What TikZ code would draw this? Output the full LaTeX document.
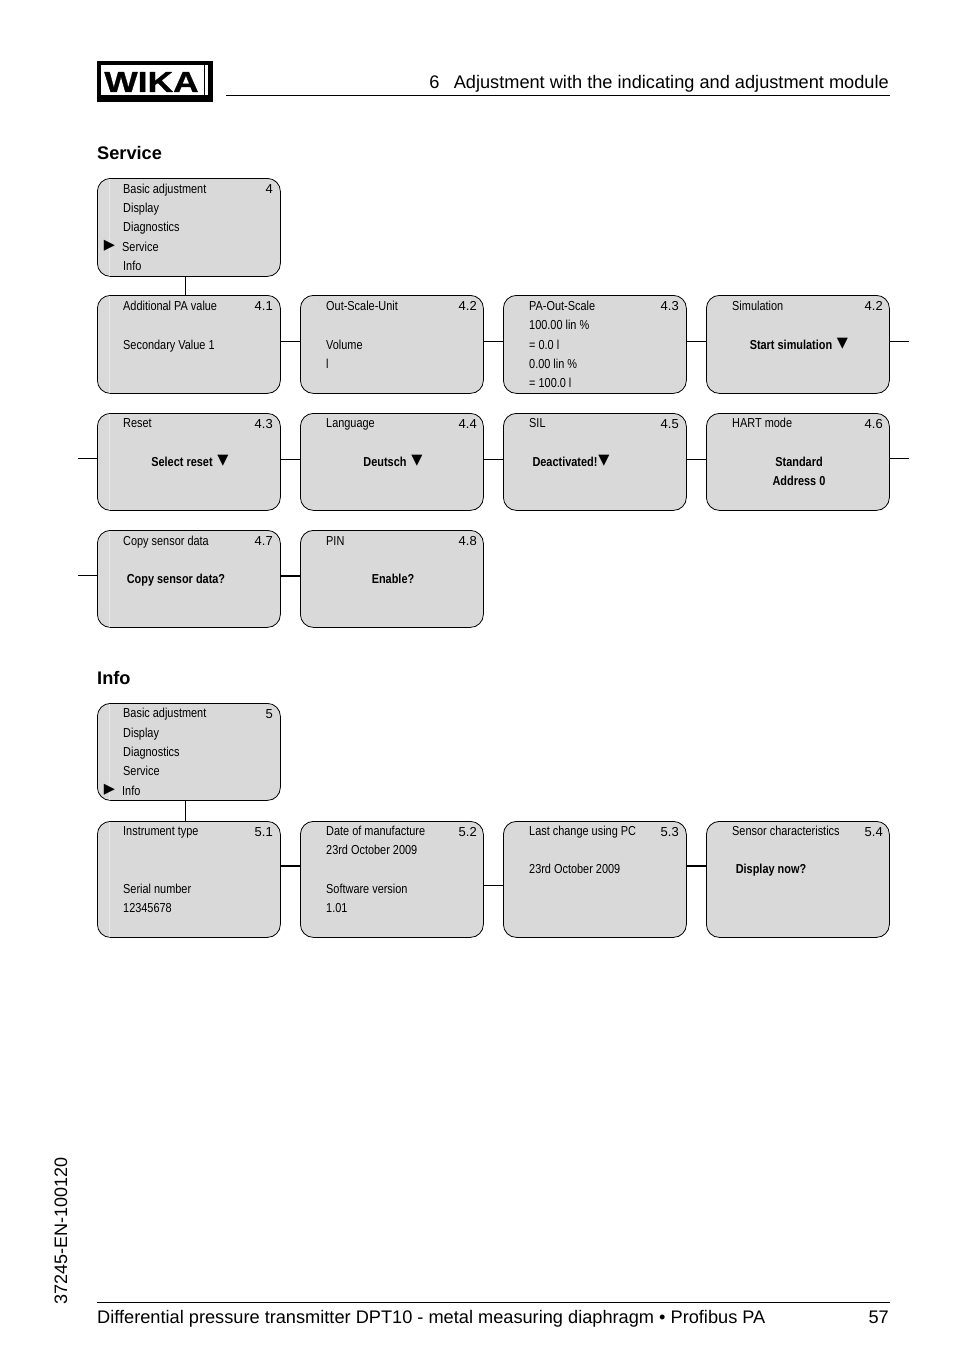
\documentclass[tikz,border=0pt]{standalone}
\usepackage{fontspec}
\setmainfont{Liberation Sans}
\newfontfamily\menufont[FakeStretch=0.84]{Liberation Sans}
\newfontfamily\logofont[BoldFeatures={FakeStretch=1.22,FakeBold=1}]{Liberation Sans}
\newfontfamily\symfont{DejaVu Sans}
\usetikzlibrary{calc}
\definecolor{menugray}{HTML}{D9D9D9}
\definecolor{menuseam}{HTML}{E9E9E9}
\tikzset{
  menubox/.style={draw=black,fill=menugray,line width=0.8pt,rounded corners=13pt,minimum width=183pt,inner sep=0pt,anchor=north west},
  menutext/.style={anchor=base west,inner sep=0pt,font=\menufont\fontsize{13}{15}\selectfont},
  menubold/.style={anchor=base,inner sep=0pt,font=\menufont\bfseries\fontsize{13}{15}\selectfont},
  menunum/.style={anchor=base east,inner sep=0pt,font=\fontsize{13}{15}\selectfont},
  menusym/.style={anchor=center,inner sep=0pt,font=\symfont\fontsize{14.5}{16}\selectfont},
  title/.style={anchor=base west,inner sep=0pt,font=\bfseries\fontsize{18.2}{20}\selectfont},
  pageline/.style={inner sep=0pt,font=\fontsize{18.2}{20}\selectfont},
  link/.style={line width=0.8pt},
  boldlink/.style={line width=1.8pt}
}
\newcommand{\menucard}[6]{% name, x, y, height, number x, number
  \node[menubox,minimum height=#4pt] (#1) at (#2,#3) {};
  \node[menunum] (#1-num) at (#5,#3+15) {#6};
}
\begin{document}
\begin{tikzpicture}[x=1pt,y=-1pt]
  \useasboundingbox (0,0) rectangle (954,1354);
  % logo
  \fill (97,61) rectangle (213,102);
  \fill[white] (101,65) rectangle (203.5,95);
  \fill[white] (205,65) rectangle (208,95);
  \node[inner sep=0pt,anchor=base,font=\logofont\bfseries\fontsize{29}{30}\selectfont] (logo) at (151.5,92) {WIKA};
  % header and footer
  \coordinate (headl) at (226,95);
  \coordinate (headr) at (890,95);
  \draw[line width=0.8pt] (headl) -- (headr);
  \node[pageline,anchor=base east] (head) at (889,88.5) {6\hspace{0.78em}Adjustment with the indicating and adjustment module};
  \coordinate (footl) at (97,1302);
  \coordinate (footr) at (890,1302);
  \draw[line width=0.8pt] (footl) -- (footr);
  \node[pageline,anchor=base west] (foot) at (97,1323) {Differential pressure transmitter DPT10 - metal measuring diaphragm • Profibus PA};
  \node[pageline,anchor=base east] (page) at (889,1323) {57};
  \node[inner sep=0pt,anchor=base west,rotate=90,font=\fontsize{18}{20}\selectfont] (docno) at (67,1305) {37245-EN-100120};
  % service
  \node[title] (service) at (97,159) {Service};
  \menucard{s0}{97}{178}{98}{273}{4}
  \menucard{s1}{97}{295}{98}{273}{4.1}
  \menucard{s2}{300}{295}{98}{477}{4.2}
  \menucard{s3}{503}{295}{98}{679}{4.3}
  \menucard{s4}{706}{295}{98}{883}{4.2}
  \menucard{s5}{97}{413}{97}{273}{4.3}
  \menucard{s6}{300}{413}{97}{477}{4.4}
  \menucard{s7}{503}{413}{97}{679}{4.5}
  \menucard{s8}{706}{413}{97}{883}{4.6}
  \menucard{s9}{97}{530}{97}{273}{4.7}
  \menucard{s10}{300}{530}{97}{477}{4.8}
  % info
  \node[title] (info) at (97,684) {Info};
  \menucard{i0}{97}{703}{97}{273}{5}
  \menucard{i1}{97}{821}{116}{273}{5.1}
  \menucard{i2}{300}{821}{116}{477}{5.2}
  \menucard{i3}{503}{821}{116}{679}{5.3}
  \menucard{i4}{706}{821}{116}{883}{5.4}

  % seam of the first column
  \foreach \a in {s0,s1,s5,s9,i0,i1}
    \draw[menuseam,line width=0.8pt] ($(\a.north west)+(12.5,1)$) -- ($(\a.south west)+(12.5,-1)$);

  % menu texts
  \node[menutext] (s0a) at (123,193) {Basic adjustment};
  \node[menutext] (s0b) at (123,212) {Display};
  \node[menutext] (s0c) at (123,231) {Diagnostics};
  \node[menutext] (s0d) at (122,251) {Service};
  \node[menutext] (s0e) at (123,270) {Info};
  \node[menusym] (s0m) at (109.5,246) {▶};

  \node[menutext] (s1a) at (123,310) {Additional PA value};
  \node[menutext] (s1b) at (123,349) {Secondary Value 1};

  \node[menutext] (s2a) at (326,310) {Out-Scale-Unit};
  \node[menutext] (s2b) at (326,349) {Volume};
  \node[menutext] (s2c) at (326,368) {l};

  \node[menutext] (s3a) at (529,310) {PA-Out-Scale};
  \node[menutext] (s3b) at (529,329) {100.00 lin \%};
  \node[menutext] (s3c) at (529,349) {= 0.0 l};
  \node[menutext] (s3d) at (529,368) {0.00 lin \%};
  \node[menutext] (s3e) at (529,387) {= 100.0 l};

  \node[menutext] (s4a) at (732,310) {Simulation};
  \node[menubold] (s4b) at (791,349) {Start simulation};
  \node[menusym] (s4m) at (842.5,344) {▼};

  \node[menutext] (s5a) at (123,427) {Reset};
  \node[menubold] (s5b) at (182,466) {Select reset};
  \node[menusym] (s5m) at (223,461) {▼};

  \node[menutext] (s6a) at (326,427) {Language};
  \node[menubold] (s6b) at (385,466) {Deutsch};
  \node[menusym] (s6m) at (417,461) {▼};

  \node[menutext] (s7a) at (529,427) {SIL};
  \node[menubold] (s7b) at (565,466) {Deactivated!};
  \node[menusym] (s7m) at (604,461) {▼};

  \node[menutext] (s8a) at (732,427) {HART mode};
  \node[menubold] (s8b) at (799,466) {Standard};
  \node[menubold] (s8c) at (799,485) {Address 0};

  \node[menutext] (s9a) at (123,545) {Copy sensor data};
  \node[menubold] (s9b) at (176,583) {Copy sensor data?};

  \node[menutext] (s10a) at (326,545) {PIN};
  \node[menubold] (s10b) at (393,583) {Enable?};

  \node[menutext] (i0a) at (123,717) {Basic adjustment};
  \node[menutext] (i0b) at (123,737) {Display};
  \node[menutext] (i0c) at (123,756) {Diagnostics};
  \node[menutext] (i0d) at (123,775) {Service};
  \node[menutext] (i0e) at (122,795) {Info};
  \node[menusym] (i0m) at (109.5,790) {▶};

  \node[menutext] (i1a) at (123,835) {Instrument type};
  \node[menutext] (i1b) at (123,893) {Serial number};
  \node[menutext] (i1c) at (123,912) {12345678};

  \node[menutext] (i2a) at (326,835) {Date of manufacture};
  \node[menutext] (i2b) at (326,854) {23rd October 2009};
  \node[menutext] (i2c) at (326,893) {Software version};
  \node[menutext] (i2d) at (326,912) {1.01};

  \node[menutext] (i3a) at (529,835) {Last change using PC};
  \node[menutext] (i3b) at (529,873) {23rd October 2009};

  \node[menutext] (i4a) at (732,835) {Sensor characteristics};
  \node[menubold] (i4b) at (771,873) {Display now?};

  % links
  \draw[link] ([xshift=-3.5pt]s0.south) -- ([xshift=-3.5pt]s1.north);
  \draw[link] ([xshift=-3.5pt]i0.south) -- ([xshift=-3.5pt]i1.north);
  \foreach \a/\b in {s1/s2,s2/s3,s3/s4}
    \draw[link] ([yshift=3pt]\a.east) -- ([yshift=3pt]\b.west);
  \foreach \a/\b in {s5/s6,s6/s7,s7/s8}
    \draw[link] ([yshift=3pt]\a.east) -- ([yshift=3pt]\b.west);
  \draw[boldlink] ([yshift=3pt]s9.east) -- ([yshift=3pt]s10.west);
  \draw[boldlink] ([yshift=13.5pt]i1.east) -- ([yshift=13.5pt]i2.west);
  \draw[link] ([yshift=-6pt]i2.east) -- ([yshift=-6pt]i3.west);
  \draw[boldlink] ([yshift=13.5pt]i3.east) -- ([yshift=13.5pt]i4.west);
  \coordinate (s4out) at (909,341);
  \coordinate (s5in) at (78,458);
  \coordinate (s8out) at (909,458);
  \coordinate (s9in) at (78,575);
  \draw[link] (s4.east |- s4out) -- (s4out);
  \draw[link] (s5in) -- (s5.west |- s5in);
  \draw[link] (s8.east |- s8out) -- (s8out);
  \draw[link] (s9in) -- (s9.west |- s9in);
\end{tikzpicture}
\end{document}
